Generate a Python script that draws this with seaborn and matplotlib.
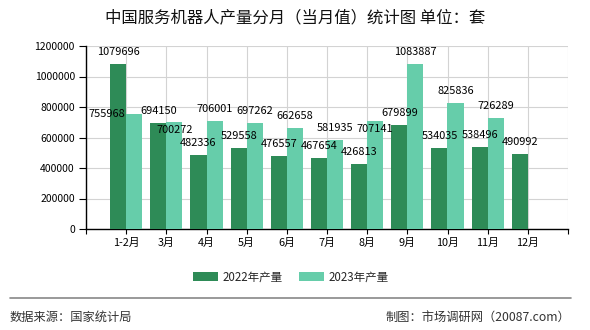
import matplotlib
matplotlib.use("Agg")
import matplotlib.pyplot as plt
import seaborn as sns
import pandas as pd
import numpy as np

months = ["1-2月", "3月", "4月", "5月", "6月", "7月", "8月", "9月", "10月", "11月", "12月"]
prod_2022 = [1079696, 694150, 482336, 529558, 476557, 467654, 426813, 679899, 534035, 538496, 490992]
prod_2023 = [755968, 700272, 706001, 697262, 662658, 581935, 707141, 1083887, 825836, 726289, None]
series_names = ["2022年产量", "2023年产量"]
colors = ["#2e8b57", "#66cdaa"]

title = "中国服务机器人产量分月（当月值）统计图 单位：套"
source_text = "数据来源：国家统计局"
maker_text = "制图：市场调研网（20087.com）"

# label nudges (pixels) to mimic overlap avoidance in the reference
label_nudge = {(1, 0): (-27, -12), (1, 1): (0, -20), (1, 6): (0, -20)}

rows = []
for m, a, b in zip(months, prod_2022, prod_2023):
    rows.append({"month": m, "series": series_names[0], "value": a})
    if b is not None:
        rows.append({"month": m, "series": series_names[1], "value": b})
df = pd.DataFrame(rows)

sns.set_theme(style="white")
plt.rcParams["font.family"] = ["Noto Sans CJK SC", "DejaVu Sans"]

fig = plt.figure(figsize=(5.9, 3.3), dpi=100)
ax = fig.add_axes([86/590, 1 - 229/330, (568-86)/590, (229-46)/330])

sns.barplot(data=df, x="month", y="value", hue="series", order=months,
            hue_order=series_names, palette=colors, width=0.8, saturation=1,
            linewidth=0, edgecolor="none", gap=0,
            ax=ax, zorder=3, legend=True)

# data labels
for si, cont in enumerate(ax.containers):
    for bar in cont:
        h = bar.get_height()
        if h is None or np.isnan(h) or h == 0:
            continue
        xc = bar.get_x() + bar.get_width() / 2
        cat = int(round(xc + (0.2 if si == 0 else -0.2)))
        dx, dy = label_nudge.get((si, cat), (0, 0))
        ax.annotate(f"{int(h)}", (xc, h), xytext=(dx, 7 + dy), textcoords="offset pixels",
                    ha="center", va="bottom", fontsize=7.9, color="black", zorder=5)

ax.set_xlim(-1, 11)
ax.set_ylim(0, 1200000)
ax.set_yticks(np.arange(0, 1200001, 200000))
ax.set_yticklabels([str(v) for v in range(0, 1200001, 200000)], fontsize=7.5)
ax.set_xticks(range(-1, 12))
ax.set_xticklabels([""] + months + [""], fontsize=7.8)
ax.set_xlabel("")
ax.set_ylabel("")

ax.grid(True, color="#d3d3d3", linewidth=0.8, zorder=0)
ax.set_axisbelow(True)
for s in ["top", "right"]:
    ax.spines[s].set_visible(False)
for s in ["left", "bottom"]:
    ax.spines[s].set_color("black")
    ax.spines[s].set_linewidth(1.0)
ax.tick_params(axis="y", direction="out", length=5, width=0.8, color="black",
               left=True, pad=3, labelcolor="black")
ax.tick_params(axis="x", direction="out", length=3.5, width=0.8, color="black",
               bottom=True, pad=3, labelcolor="black")

leg = ax.legend(loc="center", bbox_to_anchor=(291/590, 1 - 277/330),
                bbox_transform=fig.transFigure, ncol=2, frameon=False,
                fontsize=8.3, handlelength=2.2, handleheight=0.8,
                columnspacing=1.4, handletextpad=0.4)

fig.text(295/590, 1 - 18/330, title, ha="center", va="center", fontsize=11.8, color="#111111")

fig.add_artist(plt.Line2D([10/590, 571/590], [1 - 298/330, 1 - 298/330],
                          transform=fig.transFigure, color="#888888", linewidth=1.2))
fig.text(10/590, 1 - 317/330, source_text, ha="left", va="center", fontsize=8.8, color="#333333")
fig.text(570/590, 1 - 317/330, maker_text, ha="right", va="center", fontsize=8.8, color="#333333")

fig.savefig("out.png", dpi=100)
